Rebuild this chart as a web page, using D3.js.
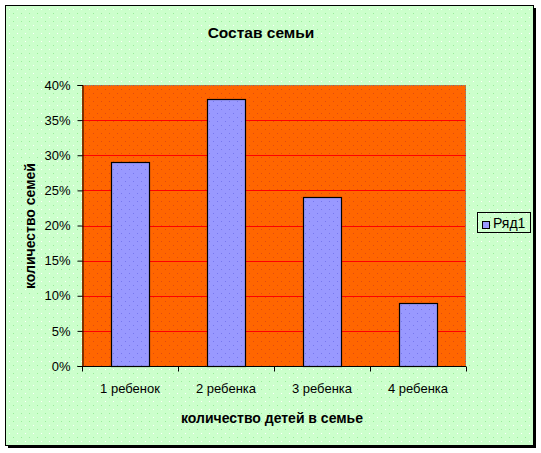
<!DOCTYPE html>
<html>
<head>
<meta charset="utf-8">
<script src="https://cdn.jsdelivr.net/npm/d3@7"></script>
<style>
  body { margin: 0; background: #fff; }
  svg { display: block; font-family: "Liberation Sans", Arial, sans-serif; }
</style>
</head>
<body>
<div id="chart"></div>
<script>
// chart data
const categories = ["1 ребенок", "2 ребенка", "3 ребенка", "4 ребенка"];
const values = [0.29, 0.38, 0.24, 0.09];
const yTicks = [0, 0.05, 0.10, 0.15, 0.20, 0.25, 0.30, 0.35, 0.40];
const seriesName = "Ряд1";

const width = 541;
const height = 453;
const marginTop = 85;
const marginRight = 75;
const marginBottom = 87;
const marginLeft = 82;

const svg = d3.select("#chart").append("svg")
  .attr("width", width)
  .attr("height", height);

// patterns, Excel style dotted fills
const defs = svg.append("defs");
function dotPattern(id, bg, c1, c2) {
  const p = defs.append("pattern")
    .attr("id", id)
    .attr("patternUnits", "userSpaceOnUse")
    .attr("width", 8).attr("height", 8);
  p.append("rect").attr("width", 8).attr("height", 8).attr("fill", bg);
  p.append("rect").attr("x", 1).attr("y", 1).attr("width", 1).attr("height", 1).attr("fill", c1);
  p.append("rect").attr("x", 5).attr("y", 5).attr("width", 1).attr("height", 1).attr("fill", c2);
}
dotPattern("bgPat", "#ccffcc", "#ffffff", "#99ee99");
dotPattern("plotPat", "#ff6600", "#e04a10", "#e04a10");
dotPattern("barPat", "#9999ff", "#7777ee", "#7777ee");

// chart frame with shadow
svg.append("rect")
  .attr("x", 8).attr("y", 8)
  .attr("width", 528).attr("height", 440)
  .attr("fill", "#000");
svg.append("rect")
  .attr("x", 5.5).attr("y", 5.5)
  .attr("width", 528).attr("height", 440)
  .attr("fill", "url(#bgPat)")
  .attr("stroke", "#000");

const x = d3.scaleBand()
  .domain(categories)
  .range([marginLeft, width - marginRight])
  .paddingInner(0.6)
  .paddingOuter(0.3);

const xOuter = d3.scaleBand()
  .domain(categories)
  .range([marginLeft, width - marginRight]);

const y = d3.scaleLinear()
  .domain([0, 0.4])
  .range([height - marginBottom, marginTop]);

// plot area
svg.append("rect")
  .attr("x", marginLeft).attr("y", marginTop)
  .attr("width", width - marginRight - marginLeft)
  .attr("height", height - marginBottom - marginTop)
  .attr("fill", "url(#plotPat)");

// gridlines
svg.append("g")
  .selectAll("line")
  .data(yTicks.slice(1, -1))
  .join("line")
    .attr("x1", marginLeft).attr("x2", width - marginRight)
    .attr("y1", d => Math.round(y(d)) + 0.5)
    .attr("y2", d => Math.round(y(d)) + 0.5)
    .attr("stroke", "#ff0000");

// plot border top/right (grey dotted)
svg.append("path")
  .attr("d", `M${marginLeft},${marginTop + 0.5}H${width - marginRight - 0.5}V${height - marginBottom}`)
  .attr("fill", "none")
  .attr("stroke", "#808080")
  .attr("stroke-dasharray", "1,1");

// bars
svg.append("g")
  .selectAll("rect")
  .data(values)
  .join("rect")
    .attr("x", (d, i) => Math.round(x(categories[i])) + 0.5)
    .attr("y", d => Math.round(y(d)) + 0.5)
    .attr("width", Math.round(x.bandwidth()))
    .attr("height", d => Math.round(y(0)) - Math.round(y(d)))
    .attr("fill", "url(#barPat)")
    .attr("stroke", "#000")
    .attr("stroke-width", 1.2);

// y axis
svg.append("g")
  .attr("transform", `translate(${marginLeft + 0.5},0)`)
  .call(d3.axisLeft(y).tickValues(yTicks).tickFormat(d3.format(".0%")).tickSizeOuter(0).tickSize(5))
  .call(g => g.select(".domain").attr("stroke", "#000"))
  .call(g => g.selectAll(".tick line").attr("stroke", "#000"))
  .call(g => g.selectAll(".tick text")
    .attr("font-size", 13)
    .attr("font-family", "Liberation Sans, Arial, sans-serif")
    .attr("fill", "#000")
    .attr("x", -12));

// x axis
const xAxis = svg.append("g")
  .attr("transform", `translate(0,${Math.round(y(0)) + 0.5})`);
xAxis.append("line")
  .attr("x1", marginLeft).attr("x2", width - marginRight)
  .attr("stroke", "#000");
xAxis.selectAll("line.tk")
  .data([...categories.map(c => xOuter(c)), width - marginRight])
  .join("line")
    .attr("class", "tk")
    .attr("x1", d => Math.round(d) + 0.5).attr("x2", d => Math.round(d) + 0.5)
    .attr("y1", 0).attr("y2", 5)
    .attr("stroke", "#000");
xAxis.selectAll("text")
  .data(categories)
  .join("text")
    .attr("x", d => xOuter(d) + xOuter.bandwidth() / 2)
    .attr("y", 26)
    .attr("text-anchor", "middle")
    .attr("font-size", 13)
    .text(d => d);

// titles
svg.append("text")
  .attr("x", 261).attr("y", 38)
  .attr("text-anchor", "middle")
  .attr("font-size", 15.5)
  .attr("font-weight", "bold")
  .text("Состав семьи");

svg.append("text")
  .attr("x", 272).attr("y", 423)
  .attr("text-anchor", "middle")
  .attr("font-size", 14)
  .attr("font-weight", "bold")
  .text("количество детей в семье");

svg.append("text")
  .attr("transform", `translate(35,226) rotate(-90)`)
  .attr("text-anchor", "middle")
  .attr("font-size", 14)
  .attr("font-weight", "bold")
  .text("количество семей");

// legend
const legend = svg.append("g").attr("transform", "translate(477,212)");
legend.append("rect")
  .attr("x", 0.5).attr("y", 0.5)
  .attr("width", 53).attr("height", 20)
  .attr("fill", "url(#bgPat)")
  .attr("stroke", "#000");
legend.append("rect")
  .attr("x", 5.5).attr("y", 9.5)
  .attr("width", 7).attr("height", 7)
  .attr("fill", "#9999ff")
  .attr("stroke", "#000");
legend.append("text")
  .attr("x", 16).attr("y", 16)
  .attr("font-size", 14)
  .text(seriesName);
</script>
</body>
</html>
